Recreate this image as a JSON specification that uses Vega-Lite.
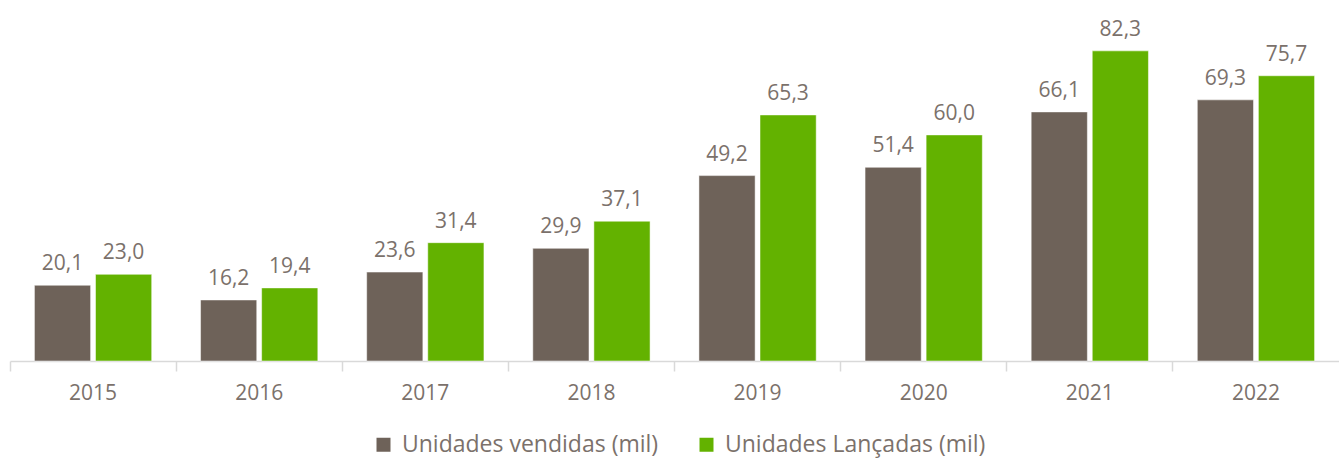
{
  "$schema": "https://vega.github.io/schema/vega-lite/v6.json",
  "width": 1329,
  "height": 361,
  "autosize": {"type": "none"},
  "padding": {"left": 10, "top": 0, "right": 0, "bottom": 98},
  "background": "white",
  "config": {
    "view": {"stroke": null},
    "locale": {"number": {"decimal": ",", "thousands": ".", "grouping": [3], "currency": ["R$", ""]}},
    "font": "Open Sans"
  },
  "data": {
    "values": [
      {"ano": "2015", "serie": "Unidades vendidas (mil)", "valor": 20.1},
      {"ano": "2015", "serie": "Unidades Lançadas (mil)", "valor": 23.0},
      {"ano": "2016", "serie": "Unidades vendidas (mil)", "valor": 16.2},
      {"ano": "2016", "serie": "Unidades Lançadas (mil)", "valor": 19.4},
      {"ano": "2017", "serie": "Unidades vendidas (mil)", "valor": 23.6},
      {"ano": "2017", "serie": "Unidades Lançadas (mil)", "valor": 31.4},
      {"ano": "2018", "serie": "Unidades vendidas (mil)", "valor": 29.9},
      {"ano": "2018", "serie": "Unidades Lançadas (mil)", "valor": 37.1},
      {"ano": "2019", "serie": "Unidades vendidas (mil)", "valor": 49.2},
      {"ano": "2019", "serie": "Unidades Lançadas (mil)", "valor": 65.3},
      {"ano": "2020", "serie": "Unidades vendidas (mil)", "valor": 51.4},
      {"ano": "2020", "serie": "Unidades Lançadas (mil)", "valor": 60.0},
      {"ano": "2021", "serie": "Unidades vendidas (mil)", "valor": 66.1},
      {"ano": "2021", "serie": "Unidades Lançadas (mil)", "valor": 82.3},
      {"ano": "2022", "serie": "Unidades vendidas (mil)", "valor": 69.3},
      {"ano": "2022", "serie": "Unidades Lançadas (mil)", "valor": 75.7}
    ]
  },
  "encoding": {
    "x": {
      "field": "ano", "type": "nominal", "title": null,
      "scale": {"paddingInner": 0, "paddingOuter": 0},
      "axis": {
        "bandPosition": 0,
        "labelAngle": 0,
        "labelFontSize": 21,
        "labelColor": "#7b716b",
        "labelPadding": 11,
        "labelFont": "Open Sans",
        "domainColor": "#d9d9d9",
        "domainWidth": 1.5,
        "tickColor": "#d9d9d9",
        "tickWidth": 1.5,
        "tickSize": 10,
        "ticks": true,
        "grid": false
      }
    },
    "xOffset": {
      "field": "serie", "type": "nominal",
      "sort": ["Unidades vendidas (mil)", "Unidades Lançadas (mil)"],
      "scale": {"paddingInner": 0.08, "paddingOuter": 0.4}
    },
    "y": {
      "field": "valor", "type": "quantitative",
      "scale": {"domain": [0, 95.8], "nice": false, "zero": true},
      "axis": null
    }
  },
  "layer": [
    {
      "mark": {"type": "bar", "stroke": "white", "strokeWidth": 0.5},
      "encoding": {
        "color": {
          "field": "serie", "type": "nominal",
          "scale": {
            "domain": ["Unidades vendidas (mil)", "Unidades Lançadas (mil)"],
            "range": ["#6e6259", "#63b200"]
          },
          "legend": {
            "title": null,
            "orient": "none",
            "legendX": 362,
            "legendY": 433,
            "direction": "horizontal",
            "symbolType": "square",
            "symbolSize": 196,
            "symbolStrokeWidth": 0,
            "labelFontSize": 23,
            "labelColor": "#7b716b",
            "labelFont": "Open Sans",
            "labelOffset": 7,
            "labelLimit": 400,
            "columnPadding": 36
          }
        }
      }
    },
    {
      "mark": {"type": "text", "baseline": "bottom", "dy": -11, "fontSize": 21, "color": "#7b716b", "font": "Open Sans"},
      "encoding": {
        "text": {"field": "valor", "type": "quantitative", "format": ".1f"}
      }
    }
  ]
}
